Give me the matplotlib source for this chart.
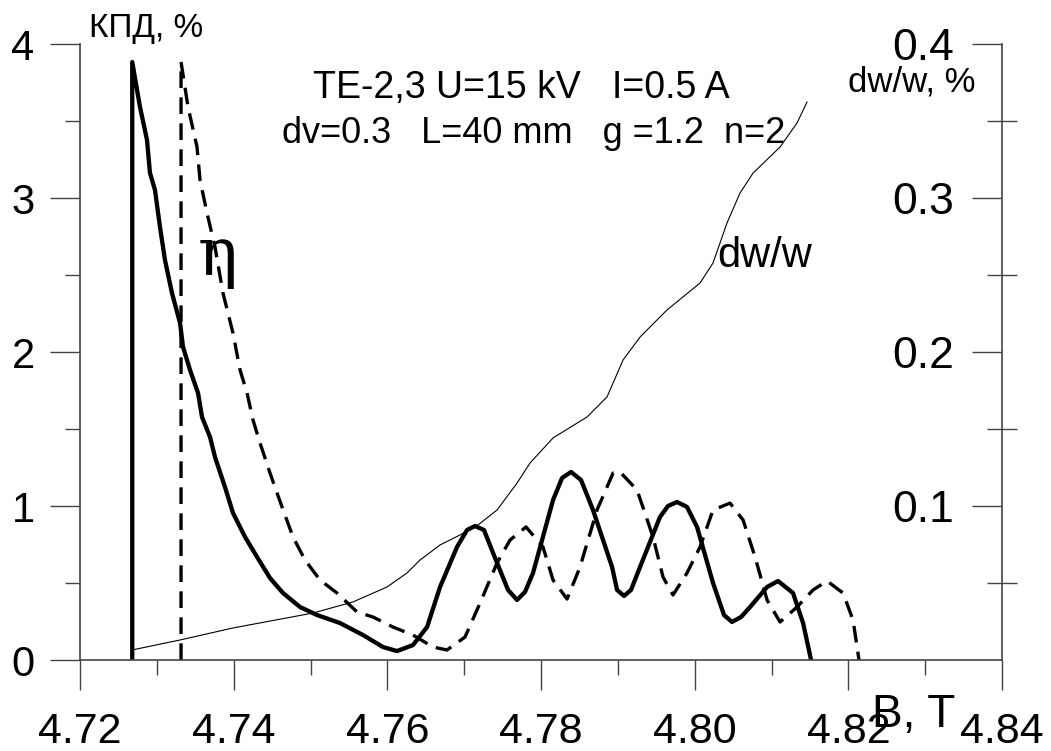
import matplotlib
matplotlib.use("Agg")
import matplotlib.pyplot as plt
from matplotlib.ticker import MultipleLocator, FixedLocator

plt.rcParams['font.family'] = ['Liberation Sans', 'DejaVu Sans']

# efficiency, solid curve (B in T, eta in %)
b_solid = [4.7268, 4.7268, 4.72781, 4.72872, 4.72911, 4.72976, 4.73041, 4.73106,
           4.73197, 4.73302, 4.73341, 4.73432, 4.73536, 4.73588, 4.73692, 4.73757,
           4.73887, 4.73991, 4.74148, 4.74304, 4.74473, 4.74642, 4.74864, 4.75085,
           4.75384, 4.75684, 4.75944, 4.76126, 4.76334, 4.76517, 4.76686, 4.76907,
           4.77037, 4.77141, 4.77258, 4.77376, 4.77571, 4.77688, 4.77792, 4.77896,
           4.78157, 4.78274, 4.78391, 4.78521, 4.78677, 4.78925, 4.78990, 4.79081,
           4.79172, 4.79289, 4.79549, 4.79653, 4.79770, 4.79900, 4.80031, 4.80239,
           4.80382, 4.80486, 4.80604, 4.80721, 4.80942, 4.81085, 4.81280, 4.81411,
           4.81515]
eta_solid = [0.0, 3.883, 3.591, 3.377, 3.162, 3.052, 2.812, 2.597,
             2.383, 2.188, 2.032, 1.883, 1.734, 1.578, 1.448, 1.318,
             1.123, 0.955, 0.799, 0.669, 0.532, 0.435, 0.344, 0.292,
             0.240, 0.162, 0.084, 0.058, 0.097, 0.214, 0.474, 0.734,
             0.844, 0.870, 0.844, 0.695, 0.455, 0.390, 0.442, 0.565,
             1.039, 1.182, 1.221, 1.169, 0.974, 0.604, 0.455, 0.416,
             0.455, 0.604, 0.929, 1.000, 1.026, 0.994, 0.864, 0.500,
             0.292, 0.247, 0.279, 0.344, 0.474, 0.513, 0.435, 0.240,
             0.0]

# efficiency, dashed curve
b_dash = [4.73315, 4.73315, 4.73406, 4.73523, 4.73562, 4.73653, 4.73757, 4.73861,
          4.73991, 4.74083, 4.74174, 4.74252, 4.74343, 4.74473, 4.74629, 4.74772,
          4.74929, 4.75124, 4.75345, 4.75605, 4.75814, 4.76074, 4.76334, 4.76595,
          4.76777, 4.77011, 4.77207, 4.77428, 4.77597, 4.77805, 4.78026, 4.78157,
          4.78339, 4.78508, 4.78729, 4.78938, 4.79029, 4.79250, 4.79458, 4.79588,
          4.79718, 4.79900, 4.80070, 4.80239, 4.80460, 4.80630, 4.80786, 4.80942,
          4.81111, 4.81332, 4.81541, 4.81723, 4.81931, 4.82061, 4.82139]
eta_dash = [0.0, 3.883, 3.591, 3.331, 3.117, 2.903, 2.682, 2.383,
            2.123, 1.883, 1.734, 1.558, 1.409, 1.214, 0.994, 0.799,
            0.649, 0.519, 0.435, 0.312, 0.279, 0.214, 0.162, 0.084,
            0.065, 0.149, 0.370, 0.630, 0.779, 0.864, 0.734, 0.519,
            0.396, 0.604, 0.974, 1.214, 1.221, 1.104, 0.799, 0.539,
            0.422, 0.565, 0.734, 0.974, 1.019, 0.909, 0.669, 0.390,
            0.247, 0.344, 0.455, 0.513, 0.435, 0.260, 0.0]

# energy spread dw/w, %
b_dw = [4.72677, 4.73302, 4.73991, 4.75033, 4.75553, 4.75996, 4.76256, 4.76425,
        4.76686, 4.76946, 4.77180, 4.77428, 4.77688, 4.77857, 4.78157, 4.78599,
        4.78859, 4.79068, 4.79289, 4.79640, 4.80070, 4.80239, 4.80421, 4.80590,
        4.80760, 4.81111, 4.81332, 4.81462]
dw = [0.0065, 0.0130, 0.0208, 0.0305, 0.0377, 0.0474, 0.0565, 0.0649,
      0.0747, 0.0812, 0.0877, 0.0974, 0.1149, 0.1279, 0.1442, 0.1578,
      0.1708, 0.1948, 0.2097, 0.2273, 0.2448, 0.2578, 0.2838, 0.3032,
      0.3162, 0.3331, 0.3487, 0.3623]

x_ticks = [4.72, 4.74, 4.76, 4.78, 4.80, 4.82, 4.84]
x_labels = ['4.72', '4.74', '4.76', '4.78', '4.80', '4.82', '4.84']
y_ticks = [0, 1, 2, 3, 4]
dw_ticks = [0.1, 0.2, 0.3, 0.4]
dw_labels = ['0.1', '0.2', '0.3', '0.4']

W, H = 1051, 751
fig = plt.figure(figsize=(W / 100, H / 100), dpi=100)
ax = fig.add_axes([80 / W, 1 - 660 / H, 922 / W, 616 / H])
ax2 = ax.twinx()

axis_col = '#444444'

ax.plot(b_solid, eta_solid, color='black', lw=3.1, solid_joinstyle='round')
ax.plot(b_dash, eta_dash, color='black', lw=2.4, linestyle=(0, (5, 2.8)))
ax2.plot(b_dw, dw, color='black', lw=0.8)

ax.set_xlim(4.72, 4.84)
ax.set_ylim(0, 4)
ax2.set_ylim(0, 0.4)

ax.set_xticks(x_ticks, x_labels)
ax.set_yticks(y_ticks)
ax.xaxis.set_minor_locator(MultipleLocator(0.01))
ax.yaxis.set_minor_locator(MultipleLocator(0.5))
ax.tick_params(which='major', length=21.6, width=1.0, color=axis_col, direction='out')
ax.tick_params(which='minor', length=10.8, width=1.0, color=axis_col, direction='out')
ax.tick_params(axis='x', labelsize=31, pad=16)
ax.tick_params(axis='y', labelsize=30, pad=11)

ax2.set_yticks(dw_ticks, dw_labels)
ax2.yaxis.set_minor_locator(FixedLocator([0.05, 0.15, 0.25, 0.35]))
ax2.tick_params(axis='y', which='major', direction='in', length=21.6, width=1.0,
                color=axis_col, labelsize=32, pad=-79)
ax2.tick_params(axis='y', which='minor', direction='inout', length=22, width=1.0,
                color=axis_col)

for s in ['top', 'right']:
    ax.spines[s].set_visible(False)
for s in ['top', 'left', 'bottom']:
    ax2.spines[s].set_visible(False)
for a in (ax, ax2):
    for s in a.spines.values():
        s.set_color(axis_col)
        s.set_linewidth(1.2)

# captions inside the plot
ax.text(4.75033, 3.649, 'TE-2,3 U=15 kV   I=0.5 A', fontsize=27)
ax.text(4.74629, 3.357, 'dv=0.3   L=40 mm   g =1.2  n=2', fontsize=26)
ax.text(4.73536, 2.5, 'η', fontsize=48, family=['DejaVu Serif'])
ax.text(4.80291, 2.552, 'dw/w', fontsize=30)

# axis titles
fig.text(89 / W, 1 - 37 / H, 'КПД, %', fontsize=24)
fig.text(975 / W, 1 - 92 / H, 'dw/w, %', fontsize=25, ha='right')
fig.text(872 / W, 1 - 727 / H, 'B, T', fontsize=33)

fig.savefig('out.png', dpi=100)
